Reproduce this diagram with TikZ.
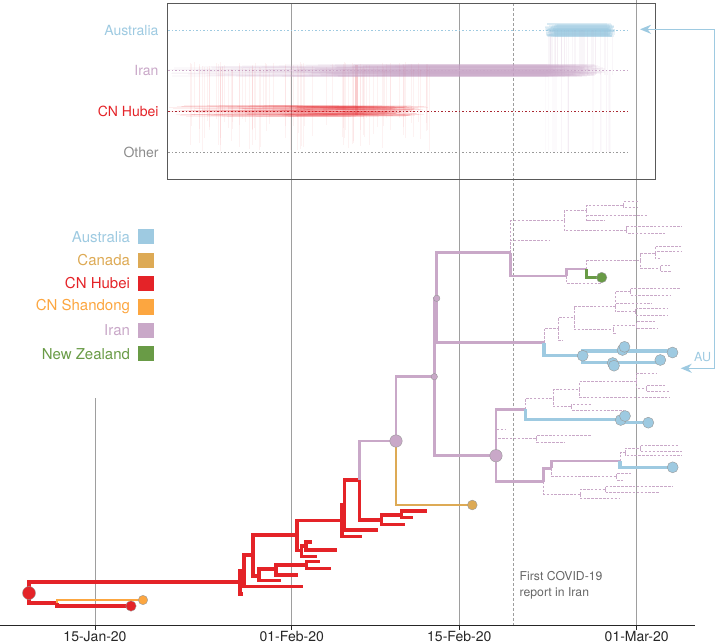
\documentclass[tikz,border=0pt]{standalone}
\usepackage{fontspec}
\setmainfont{TeX Gyre Heros}
\usetikzlibrary{arrows.meta}
\definecolor{auc}{RGB}{158,202,225}
\definecolor{canc}{RGB}{221,170,85}
\definecolor{hubc}{RGB}{228,35,40}
\definecolor{shdc}{RGB}{252,166,64}
\definecolor{iranc}{RGB}{201,168,200}
\definecolor{nzc}{RGB}{105,155,70}
\definecolor{hubdark}{RGB}{170,40,50}
\newcommand\Br[5]{\draw[#1] (#2,#3) |- (#4,#5);}
\newcommand\Dot[4]{\fill[#1,draw=black!40,line width=0.4pt] (#2,#3) circle (#4);}
\begin{document}
\begin{tikzpicture}[x=1pt,y=-1pt,
  hub/.style={draw=hubc,line width=3.1pt},
  irn/.style={draw=iranc,line width=2.9pt},
  aus/.style={draw=auc,line width=3.1pt},
  cnd/.style={draw=canc,line width=2.7pt},
  shd/.style={draw=shdc,line width=2.7pt},
  nzl/.style={draw=nzc,line width=2.9pt},
  dsh/.style={draw=iranc,line width=0.9pt,dash pattern=on 2.5pt off 1.4pt},
  gridln/.style={draw=black!38,line width=0.6pt},
  lgtext/.style={anchor=east,font=\fontsize{15}{18}\selectfont},
  instext/.style={anchor=east,font=\fontsize{14}{17}\selectfont},
  axtext/.style={font=\fontsize{14}{17}\selectfont,text=black!85,inner sep=1pt}
]
\useasboundingbox (0,0) rectangle (720,643);

% ---------- grid lines ----------
\draw[gridln] (95,398) -- (95,625.7);
\draw[gridln] (291.7,3.3) -- (291.7,625.7);
\draw[gridln] (459.3,3.3) -- (459.3,625.7);
\draw[gridln,dash pattern=on 3pt off 2pt] (513.3,3.3) -- (513.3,625.7);
\draw[gridln] (636.7,0) -- (636.7,625.7);

% ---------- inset ----------
\draw[auc,line width=0.7pt,dash pattern=on 1.5pt off 2pt] (168.3,30.3) -- (630,30.3);
\draw[iranc,line width=0.7pt,dash pattern=on 1.5pt off 2pt] (168.3,70.7) -- (630,70.7);
\draw[hubdark,line width=0.7pt,dash pattern=on 1.5pt off 2pt] (168.3,111) -- (630,111);
\draw[black!40,line width=0.7pt,dash pattern=on 1.5pt off 2pt] (168.3,152) -- (630,152);

\pgfmathsetseed{7}
% red verticals
\foreach \i in {1,...,90}{
  \pgfmathsetmacro\xx{190+240*rnd}
  \pgfmathsetmacro\ya{62+8*rnd}
  \pgfmathsetmacro\yb{112+40*rnd}
  \draw[hubc,opacity=0.06,line width=0.5pt] (\xx,\ya) -- (\xx,\yb);
}
\foreach \i in {1,...,6}{
  \pgfmathsetmacro\xx{354+5*rnd}
  \draw[hubc,opacity=0.12,line width=0.6pt] (\xx,65) -- (\xx,115);
}
% red horizontals
\foreach \i in {1,...,90}{
  \pgfmathsetmacro\yy{111+12*(rnd-0.5)}
  \pgfmathsetmacro\xs{168+140*rnd}
  \pgfmathsetmacro\xe{290+140*rnd}
  \draw[hubc,opacity=0.08,line width=0.7pt] (\xs,\yy) -- (\xe,\yy);
}
\foreach \i in {1,...,60}{
  \pgfmathsetmacro\yy{111+10*(rnd-0.5)}
  \pgfmathsetmacro\xs{285+60*rnd}
  \pgfmathsetmacro\xe{360+60*rnd}
  \draw[hubc,opacity=0.10,line width=0.8pt] (\xs,\yy) -- (\xe,\yy);
}
% purple band
\foreach \i in {1,...,50}{
  \pgfmathsetmacro\yy{70.7+12*(rnd-0.5)}
  \pgfmathsetmacro\xs{168+130*rnd}
  \pgfmathsetmacro\xe{545+55*rnd}
  \draw[iranc,opacity=0.07,line width=1.4pt] (\xs,\yy) -- (\xe,\yy);
}
\foreach \i in {1,...,130}{
  \pgfmathsetmacro\yy{70.7+12*(rnd-0.5)}
  \pgfmathsetmacro\xs{290+120*rnd}
  \pgfmathsetmacro\xe{545+60*rnd}
  \draw[iranc,opacity=0.10,line width=1.6pt] (\xs,\yy) -- (\xe,\yy);
}
% pink verticals from Australia
\foreach \i in {1,...,40}{
  \pgfmathsetmacro\xx{545+67*rnd}
  \draw[iranc,opacity=0.10,line width=0.6pt] (\xx,30) -- (\xx,75);
}
\foreach \i in {1,...,25}{
  \pgfmathsetmacro\xx{545+65*rnd}
  \draw[iranc,opacity=0.06,line width=0.5pt] (\xx,70) -- (\xx,152);
}
% blue block
\foreach \i in {1,...,60}{
  \pgfmathsetmacro\yy{30+13*(rnd-0.5)}
  \pgfmathsetmacro\xs{545+12*rnd}
  \pgfmathsetmacro\xe{607+8*rnd}
  \draw[auc,opacity=0.22,line width=2pt] (\xs,\yy) -- (\xe,\yy);
}
\draw[black!65,line width=0.8pt] (167.3,3.3) rectangle (655.7,179.3);

\node[instext,text=auc] (inAU) at (162,30.3) {Australia};
\node[instext,text=iranc] (inIR) at (162,70.7) {Iran};
\node[instext,text=hubc] (inHB) at (162,111) {CN Hubei};
\node[instext,text=black!45] (inOT) at (162,152) {Other};

% ---------- legend ----------
\foreach \lab/\col [count=\k from 0] in {Australia/auc,Canada/canc,CN Hubei/hubc,CN Shandong/shdc,Iran/iranc,New Zealand/nzc}{
  \pgfmathsetmacro\yy{236.7+23.4*\k}
  \node[lgtext,text=\col] (lg\k) at (133.5,\yy) {\lab};
  \fill[\col] (138.3,\yy-7.6) rectangle (153.7,\yy+7.6);
}

% ---------- dashed (Iran) subtrees ----------
\Br{dsh}{510.7}{252.7}{564}{220.7}
\Br{dsh}{510.7}{252.7}{549.3}{240}
\Br{dsh}{564}{220.7}{586.7}{210.7}
\Br{dsh}{564}{220.7}{626.7}{230.7}
\Br{dsh}{586.7}{210.7}{623.3}{205}
\Br{dsh}{586.7}{210.7}{648.3}{215}
\Br{dsh}{586.7}{210.7}{605}{220.7}
\Br{dsh}{623.3}{205}{638.3}{201.7}
\Br{dsh}{623.3}{205}{636.7}{207.3}
\Br{dsh}{626.7}{230.7}{681.7}{226.7}
\Br{dsh}{626.7}{230.7}{665}{233.3}
\Br{dsh}{566.7}{276}{601.7}{283.3}
\Br{dsh}{586.7}{269}{640}{260.7}
\Br{dsh}{640}{260.7}{655}{253.3}
\Br{dsh}{640}{260.7}{660}{268.3}
\Br{dsh}{655}{253.3}{681.7}{246}
\Br{dsh}{655}{253.3}{681.7}{251.7}
\Br{dsh}{655}{253.3}{660}{258.3}
\Br{dsh}{660}{268.3}{670}{265}
\Br{dsh}{660}{268.3}{671}{271.7}
\Br{dsh}{544}{342.7}{558.3}{328.3}
\Br{dsh}{558.3}{328.3}{574}{317.3}
\Br{dsh}{558.3}{328.3}{563.3}{340}
\Br{dsh}{574}{317.3}{615}{306}
\Br{dsh}{574}{317.3}{613.3}{329.3}
\Br{dsh}{615}{306}{630}{291.7}
\Br{dsh}{615}{306}{651.7}{303.3}
\Br{dsh}{615}{306}{635}{311.7}
\Br{dsh}{630}{291.7}{680}{288.3}
\Br{dsh}{630}{291.7}{670}{295}
\Br{dsh}{635}{311.7}{668.3}{308.3}
\Br{dsh}{635}{311.7}{668.3}{315}
\Br{dsh}{613.3}{329.3}{636.7}{325}
\Br{dsh}{613.3}{329.3}{616.7}{333.3}
\Br{dsh}{636.7}{325}{656.7}{321.7}
\Br{dsh}{636.7}{325}{658.3}{328.3}
\Br{dsh}{496}{455.7}{506}{429.3}
\Br{dsh}{496}{455.7}{536.7}{438.3}
\Br{dsh}{536.7}{438.3}{591.7}{435}
\Br{dsh}{536.7}{438.3}{565}{442.3}
\Br{dsh}{525.3}{409.3}{553.3}{398.3}
\Br{dsh}{553.3}{398.3}{579.3}{389.3}
\Br{dsh}{553.3}{398.3}{571.7}{406.7}
\Br{dsh}{579.3}{389.3}{636.7}{381.7}
\Br{dsh}{579.3}{389.3}{670}{397.3}
\Br{dsh}{636.7}{381.7}{656.7}{373.3}
\Br{dsh}{636.7}{381.7}{646.7}{388.3}
\Br{dsh}{646.7}{388.3}{666.7}{385}
\Br{dsh}{646.7}{388.3}{670}{391.7}
\Br{dsh}{571.7}{406.7}{591.7}{404}
\Br{dsh}{571.7}{406.7}{623.3}{410}
\Br{dsh}{543.3}{481.7}{580}{494}
\Br{dsh}{580}{494}{605}{489.3}
\Br{dsh}{580}{494}{619.3}{498.3}
\Br{dsh}{605}{489.3}{673.3}{486}
\Br{dsh}{605}{489.3}{660}{492.7}
\Br{dsh}{551.7}{468.3}{616.7}{476.7}
\Br{dsh}{616.7}{476.7}{631.7}{473.3}
\Br{dsh}{616.7}{476.7}{623.3}{480}
\Br{dsh}{620}{461}{625}{452.7}
\Br{dsh}{625}{452.7}{640}{448.3}
\Br{dsh}{625}{452.7}{681.7}{455}
\Br{dsh}{640}{448.3}{678.3}{445}
\Br{dsh}{640}{448.3}{681.7}{451.3}

% ---------- solid red (CN Hubei) ----------
\Br{hub}{29}{593}{240}{582}
\Br{hub}{29}{593}{57}{603}
\Br{hub}{57}{603}{131}{606}
\Br{hub}{240}{582}{244}{571}
\Br{hub}{240}{582}{243}{594}
\Br{hub}{244}{571}{253}{555}
\Br{hub}{244}{571}{303}{586.7}
\Br{hub}{253}{555}{297}{535}
\Br{hub}{253}{555}{259}{576}
\Br{hub}{259}{576}{276}{569}
\Br{hub}{259}{576}{281}{580.7}
\Br{hub}{276}{569}{306.7}{565}
\Br{hub}{276}{569}{297.7}{575}
\Br{hub}{306.7}{565}{320}{561.7}
\Br{hub}{306.7}{565}{331}{568.3}
\Br{hub}{297}{535}{342}{520.7}
\Br{hub}{297}{535}{301.7}{550.7}
\Br{hub}{301.7}{550.7}{306}{546}
\Br{hub}{301.7}{550.7}{317.3}{556.7}
\Br{hub}{306}{546}{311.7}{542}
\Br{hub}{306}{546}{336.7}{550}
\Br{hub}{342}{520.7}{344.5}{505}
\Br{hub}{342}{520.7}{361.7}{536.7}
\Br{hub}{344.5}{505}{359.3}{480}
\Br{hub}{344.5}{505}{377.7}{530}
\Br{hub}{359.3}{480}{381.7}{520}
\Br{hub}{381.7}{520}{401.7}{515}
\Br{hub}{381.7}{520}{405}{524.3}
\Br{hub}{401.7}{515}{427.3}{511}
\Br{hub}{401.7}{515}{412.7}{517.7}
\Br{shd}{57}{603}{143}{600}

% ---------- solid purple (Iran) ----------
\Br{irn}{359.3}{480}{396}{441}
\Br{irn}{396}{441}{434.3}{376.7}
\Br{irn}{434.3}{376.7}{436.7}{298.3}
\Br{irn}{434.3}{376.7}{496}{455.7}
\Br{irn}{436.7}{298.3}{510.7}{252.7}
\Br{irn}{436.7}{298.3}{544}{342.7}
\Br{irn}{510.7}{252.7}{566.7}{276}
\Br{irn}{566.7}{276}{586.7}{269}
\Br{irn}{496}{455.7}{525.3}{409.3}
\Br{irn}{496}{455.7}{543.3}{481.7}
\Br{irn}{543.3}{481.7}{551.7}{468.3}
\Br{irn}{551.7}{468.3}{620}{461}

% ---------- other colours ----------
\Br{cnd}{396}{441}{472.3}{505}
\Br{nzl}{586.7}{269}{601.7}{277.5}
\Br{aus}{544}{342.7}{582.7}{355.7}
\Br{aus}{582.7}{355.7}{672.7}{351}
\Br{aus}{582.7}{355.7}{660}{362.7}
\Br{aus}{525.3}{409.3}{620}{419.3}
\Br{aus}{620}{419.3}{648.3}{422.7}
\Br{aus}{620}{461}{672.7}{467.3}

% ---------- node dots ----------
\Dot{hubc}{29}{593}{6.5}
\Dot{hubc}{131}{606}{5.2}
\Dot{shdc}{143}{600}{4.7}
\Dot{canc}{472.3}{505}{4.9}
\Dot{iranc}{396}{441}{6.2}
\Dot{iranc}{434.3}{376.7}{3.2}
\Dot{iranc}{436.7}{298.3}{3.2}
\Dot{iranc}{496}{455.7}{6.2}
\Dot{nzc}{601.7}{277.5}{5.2}
\Dot{auc}{582.7}{355.7}{5.5}
\Dot{auc}{622.5}{350}{5.5}
\Dot{auc}{624.5}{346.8}{5.5}
\Dot{auc}{672.5}{352.5}{5.5}
\Dot{auc}{660.3}{360}{5.5}
\Dot{auc}{612.7}{363}{5.5}
\Dot{auc}{614}{365.7}{5.5}
\Dot{auc}{620.7}{420}{5.5}
\Dot{auc}{625}{416}{5.5}
\Dot{auc}{648.3}{422.7}{5.5}
\Dot{auc}{672.7}{467.3}{5.5}

% ---------- AU arrow ----------
\coordinate (arTop) at (640,29.3);
\coordinate (arBot) at (680.7,368.3);
\draw[auc,line width=1.4pt,{Stealth[length=11pt,width=9pt,inset=3.5pt]}-{Stealth[length=11pt,width=9pt,inset=3.5pt]}]
  (arTop) -- (714.3,29.3) -- (714.3,368.3) -- (arBot);
\node[font=\fontsize{12.5}{15}\selectfont,text=auc] (auLab) at (702.7,356.7) {AU};

% ---------- annotation ----------
\node[anchor=north west,align=left,font=\fontsize{12.2}{15.3}\selectfont,text=black!60,inner sep=0pt] (firstRep) at (519.5,571.5) {First COVID-19\\report in Iran};

% ---------- axis ----------
\draw[black!85,line width=1.2pt] (0,625.7) -- (695,625.7);
\foreach \xx/\lab [count=\k] in {95/15-Jan-20,291.7/01-Feb-20,459.3/15-Feb-20,636.7/01-Mar-20}{
  \draw[black!85,line width=0.8pt] (\xx,625.7) -- (\xx,629.5);
  \node[axtext] (ax\k) at (\xx,636.3) {\lab};
}
\end{tikzpicture}
\end{document}
